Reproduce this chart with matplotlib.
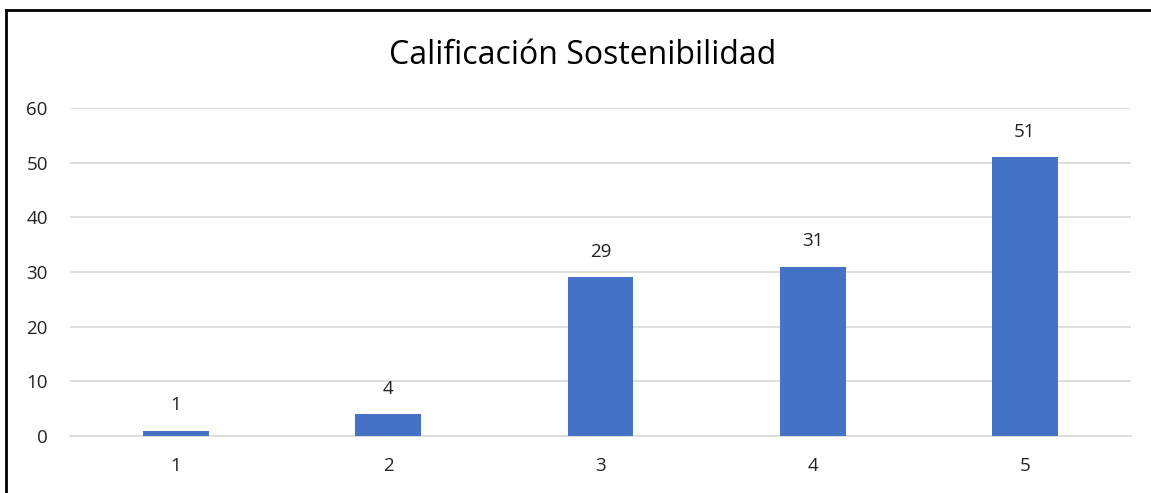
import matplotlib.pyplot as plt
from matplotlib.lines import Line2D

categories = ['1', '2', '3', '4', '5']
values = [1, 4, 29, 31, 51]
yticks = [0, 10, 20, 30, 40, 50, 60]

plt.rcParams['font.family'] = ['Open Sans', 'DejaVu Sans']

fig = plt.figure(figsize=(11.51, 4.93), dpi=100)
ax = fig.add_axes([0.0608, 0.1156, 0.9218, 0.6654])

x = range(len(categories))
ax.bar(x, values, width=0.31, color='#4472C4', zorder=3)
for xi, v in zip(x, values):
    ax.text(xi, v + 3.0, str(v), ha='center', va='bottom', fontsize=13.5, color='#222222')

ax.set_xlim(-0.5, len(categories) - 0.5)
ax.set_ylim(0, 60)
ax.set_yticks(yticks)
ax.set_xticks(list(x))
ax.set_xticklabels(categories)
ax.yaxis.grid(True, color='#d9d9d9', linewidth=1.2, zorder=0)
for s in ['top', 'right', 'left']:
    ax.spines[s].set_visible(False)
ax.spines['bottom'].set_color('#d9d9d9')
ax.spines['bottom'].set_linewidth(1.2)
ax.tick_params(axis='both', length=0, labelsize=13.5, labelcolor='#222222')
ax.tick_params(axis='y', pad=16)
ax.tick_params(axis='x', pad=15)

fig.text(0.506, 0.888, 'Calificación Sostenibilidad', ha='center', va='center',
         fontsize=23, color='#000000')

# only the top and left edges of the chart frame are visible (image is cropped)
fig.add_artist(Line2D([0.0052, 1.0], [0.9797, 0.9797], transform=fig.transFigure,
                      color='black', linewidth=2))
fig.add_artist(Line2D([0.0052, 0.0052], [0.0, 0.9797], transform=fig.transFigure,
                      color='black', linewidth=2))

fig.savefig('out.png', dpi=100)
